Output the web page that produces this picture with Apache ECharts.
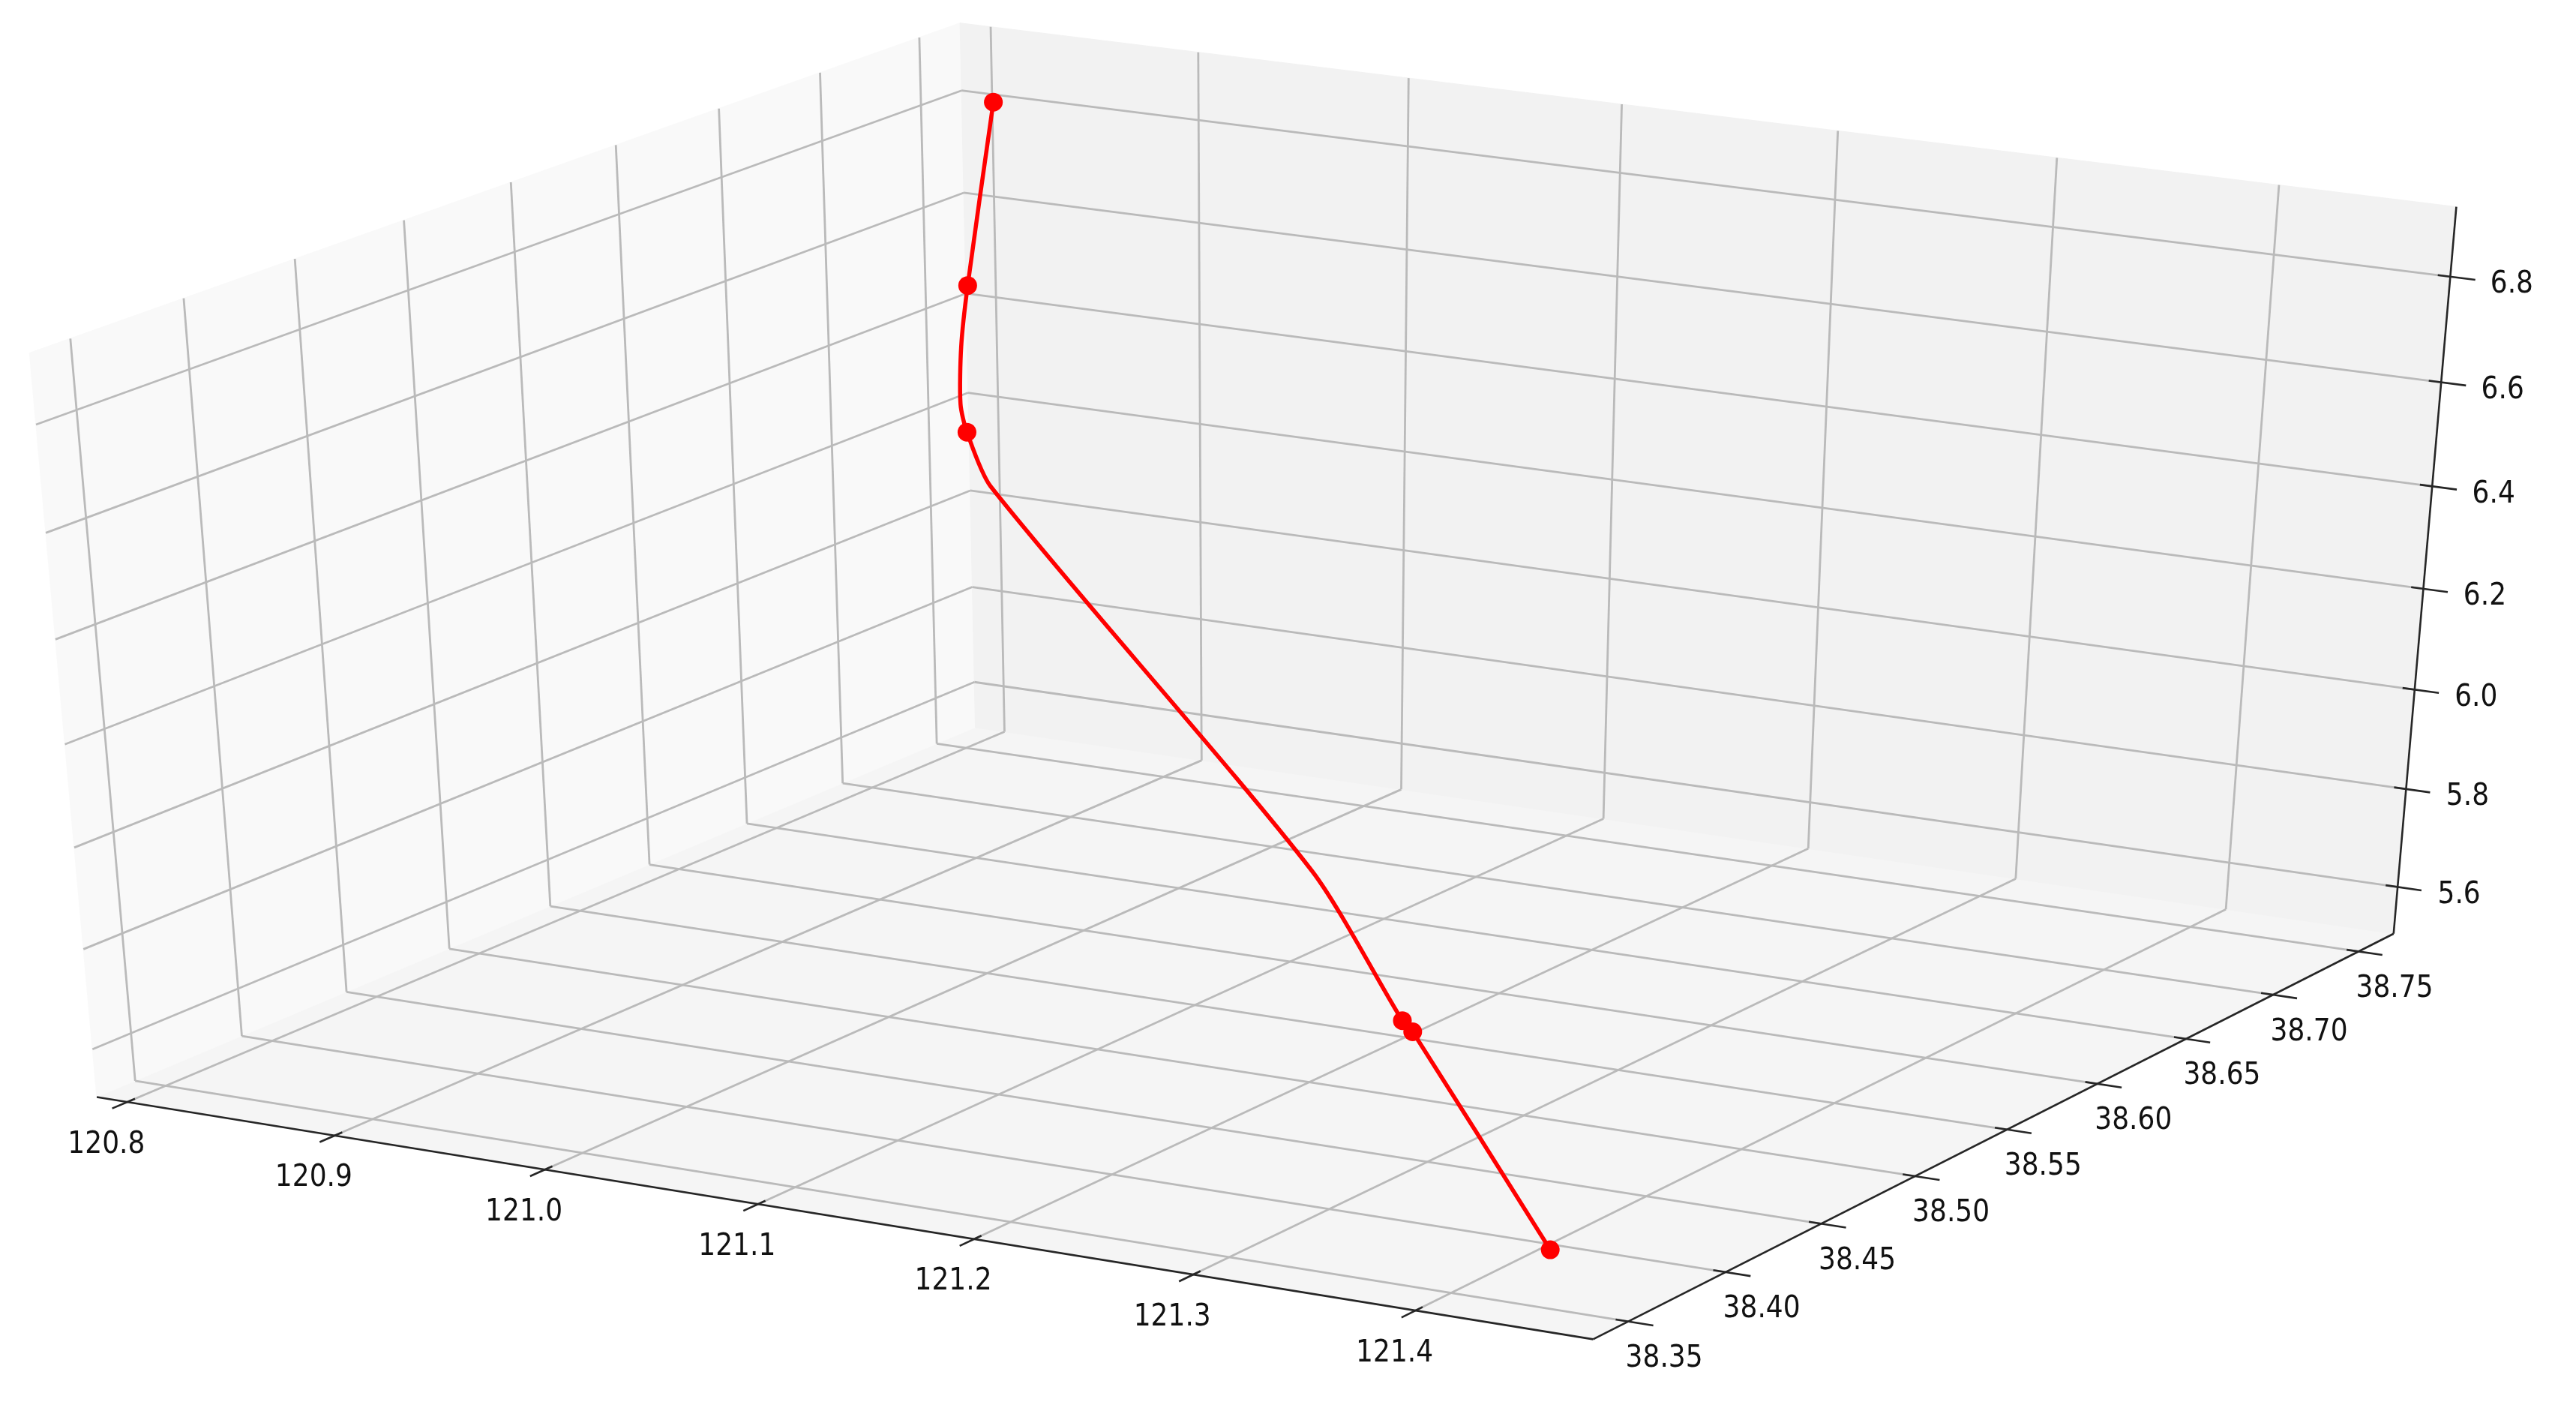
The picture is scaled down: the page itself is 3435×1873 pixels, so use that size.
<!DOCTYPE html>
<html lang="en">
<head>
<meta charset="UTF-8">
<title>3D track</title>
<style>
  * { margin: 0; padding: 0; box-sizing: border-box; }
  html, body { width: 100%; height: 100%; overflow: hidden; background: #fff; }
  #box { width: 100%; height: 100%; }
</style>
</head>
<body>
<div id="box"></div>
<script src="https://cdn.jsdelivr.net/npm/echarts@6/dist/echarts.min.js"></script>
<script>
// axis ticks and limits (lon / lat / value)
var xTicks = [120.8, 120.9, 121.0, 121.1, 121.2, 121.3, 121.4];
var yTicks = [38.35, 38.40, 38.45, 38.50, 38.55, 38.60, 38.65, 38.70, 38.75];
var zTicks = [5.6, 5.8, 6.0, 6.2, 6.4, 6.6, 6.8];
var xLim = [120.799, 121.465];
var yLim = [38.341, 38.762];
var zLim = [5.532, 6.902];

// measured points (red dots)
var pointLon = [121.435, 121.232, 121.220, 120.829, 120.829, 120.829];
var pointLat = [38.360, 38.518, 38.526, 38.724, 38.726, 38.741];
var pointZ   = [5.594, 5.594, 5.594, 6.215, 6.504, 6.840];

// vertices of the red curve
var pathLon = [121.435, 121.232, 121.220, 121.151, 120.844, 120.829, 120.829, 120.829, 120.829, 120.829];
var pathLat = [38.360, 38.518, 38.526, 38.555, 38.720, 38.724, 38.721, 38.722, 38.726, 38.741];
var pathZ   = [5.594, 5.594, 5.594, 5.800, 6.120, 6.215, 6.276, 6.389, 6.504, 6.840];

// view like matplotlib's default 3d axes (elev 30, azim -60, perspective)
var ELEV = 30, AZIM = -60, DIST = 10;
var BOX = 1.8294640721620434 / Math.sqrt(3);
var er = ELEV * Math.PI / 180, ar = AZIM * Math.PI / 180;
var W = [Math.cos(er) * Math.cos(ar), Math.cos(er) * Math.sin(ar), Math.sin(er)];
var U = [-Math.sin(ar), Math.cos(ar), 0];
var V = [W[1] * U[2] - W[2] * U[1], W[2] * U[0] - W[0] * U[2], W[0] * U[1] - W[1] * U[0]];

function dot(a, b) { return a[0] * b[0] + a[1] * b[1] + a[2] * b[2]; }
function toWorld(v, lim) { return ((v - lim[0]) / (lim[1] - lim[0]) - 0.5) * BOX; }
function project(x, y, z) {
    var q = [toWorld(x, xLim), toWorld(y, yLim), toWorld(z, zLim)];
    var d = DIST - dot(W, q);
    return [dot(U, q) / d, dot(V, q) / d];
}
function pad(lim) {
    var d = (lim[1] - lim[0]) / 48;
    return [lim[0] - d, lim[1] + d];
}
var xE = pad(xLim), yE = pad(yLim), zE = pad(zLim);
var dx = (xLim[1] - xLim[0]) / 12, dy = (yLim[1] - yLim[0]) / 12;

// panes: floor, x-pane (left), y-pane (back)
var panes = [
    { color: '#f5f5f5', pts: [[xE[0], yE[0], zE[0]], [xE[1], yE[0], zE[0]], [xE[1], yE[1], zE[0]], [xE[0], yE[1], zE[0]]] },
    { color: '#f9f9f9', pts: [[xE[0], yE[0], zE[0]], [xE[0], yE[1], zE[0]], [xE[0], yE[1], zE[1]], [xE[0], yE[0], zE[1]]] },
    { color: '#f2f2f2', pts: [[xE[0], yE[1], zE[0]], [xE[1], yE[1], zE[0]], [xE[1], yE[1], zE[1]], [xE[0], yE[1], zE[1]]] }
];

// grid lines
var gridSegs = [];
xTicks.forEach(function (t) {
    gridSegs.push([t, yE[0], zE[0], t, yE[1], zE[0]]);
    gridSegs.push([t, yE[1], zE[0], t, yE[1], zE[1]]);
});
yTicks.forEach(function (t) {
    gridSegs.push([xE[0], t, zE[0], xE[1], t, zE[0]]);
    gridSegs.push([xE[0], t, zE[0], xE[0], t, zE[1]]);
});
zTicks.forEach(function (t) {
    gridSegs.push([xE[0], yE[0], t, xE[0], yE[1], t]);
    gridSegs.push([xE[0], yE[1], t, xE[1], yE[1], t]);
});

// axis lines and tick marks
var axisSegs = [
    [xE[0], yE[0], zE[0], xE[1], yE[0], zE[0]],
    [xE[1], yE[0], zE[0], xE[1], yE[1], zE[0]],
    [xE[1], yE[1], zE[0], xE[1], yE[1], zE[1]]
];
var labels = [];
xTicks.forEach(function (t) {
    axisSegs.push([t, yE[0] + 0.1 * dy, zE[0], t, yE[0] - 0.2 * dy, zE[0]]);
    labels.push({ p: [t, yE[0], zE[0]], text: t.toFixed(1), off: [-28, 57] });
});
yTicks.forEach(function (t) {
    axisSegs.push([xE[1] - 0.1 * dx, t, zE[0], xE[1] + 0.2 * dx, t, zE[0]]);
    labels.push({ p: [xE[1], t, zE[0]], text: t.toFixed(2), off: [48, 50] });
});
zTicks.forEach(function (t) {
    axisSegs.push([xE[1] - 0.1 * dx, yE[1], t, xE[1] + 0.2 * dx, yE[1], t]);
    labels.push({ p: [xE[1], yE[1], t], text: t.toFixed(1), off: [82, 11] });
});

function segRender(color, width) {
    return function (params, api) {
        var a = api.coord(project(api.value(0), api.value(1), api.value(2)));
        var b = api.coord(project(api.value(3), api.value(4), api.value(5)));
        return {
            type: 'line',
            shape: { x1: a[0], y1: a[1], x2: b[0], y2: b[1] },
            style: { stroke: color, lineWidth: width, lineCap: 'butt' }
        };
    };
}

var box = echarts.init(document.getElementById('box'));
var option = {
    animation: false,
    backgroundColor: '#ffffff',
    grid: { left: 0, right: 0, top: 0, bottom: 0 },
    xAxis: { type: 'value', min: -0.080566, max: 0.083537, show: false },
    yAxis: { type: 'value', min: -0.097066, max: 0.085114, show: false },
    series: [
        {
            name: 'panes',
            type: 'custom',
            coordinateSystem: 'cartesian2d',
            silent: true,
            z: 1,
            data: panes.map(function (p, i) { return [i]; }),
            renderItem: function (params, api) {
                var pane = panes[params.dataIndex];
                var pts = pane.pts.map(function (p) { return api.coord(project(p[0], p[1], p[2])); });
                return { type: 'polygon', shape: { points: pts }, style: { fill: pane.color, stroke: pane.color, lineWidth: 1 } };
            }
        },
        {
            name: 'grid',
            type: 'custom',
            coordinateSystem: 'cartesian2d',
            silent: true,
            z: 2,
            data: gridSegs,
            renderItem: segRender('#bababa', 2.8)
        },
        {
            name: 'axes',
            type: 'custom',
            coordinateSystem: 'cartesian2d',
            silent: true,
            z: 3,
            data: axisSegs,
            renderItem: segRender('#262626', 2.6)
        },
        {
            name: 'labels',
            type: 'custom',
            coordinateSystem: 'cartesian2d',
            silent: true,
            z: 3,
            data: labels.map(function (l) { return l.p; }),
            renderItem: function (params, api) {
                var l = labels[params.dataIndex];
                var c = api.coord(project(l.p[0], l.p[1], l.p[2]));
                return {
                    type: 'text',
                    x: c[0] + l.off[0],
                    y: c[1] + l.off[1],
                    scaleY: 1.12,
                    style: {
                        text: l.text,
                        fill: '#111111',
                        fontSize: 36,
                        fontFamily: 'DejaVu Sans',
                        align: 'center',
                        verticalAlign: 'middle'
                    }
                };
            }
        },
        {
            name: 'track',
            type: 'custom',
            coordinateSystem: 'cartesian2d',
            silent: true,
            z: 4,
            data: [[pathLon[0], pathLat[0], pathZ[0]]],
            renderItem: function (params, api) {
                var pts = pathLon.map(function (lon, i) { return api.coord(project(lon, pathLat[i], pathZ[i])); });
                return {
                    type: 'polyline',
                    shape: { points: pts, smooth: 0.25 },
                    style: { stroke: '#ff0000', lineWidth: 5.5, fill: null, lineJoin: 'round' }
                };
            }
        },
        {
            name: 'points',
            type: 'custom',
            coordinateSystem: 'cartesian2d',
            silent: true,
            z: 5,
            data: pointLon.map(function (lon, i) { return [lon, pointLat[i], pointZ[i]]; }),
            renderItem: function (params, api) {
                var c = api.coord(project(api.value(0), api.value(1), api.value(2)));
                return { type: 'circle', shape: { cx: c[0], cy: c[1], r: 12.5 }, style: { fill: '#ff0000' } };
            }
        }
    ]
};
box.setOption(option);
</script>
</body>
</html>
